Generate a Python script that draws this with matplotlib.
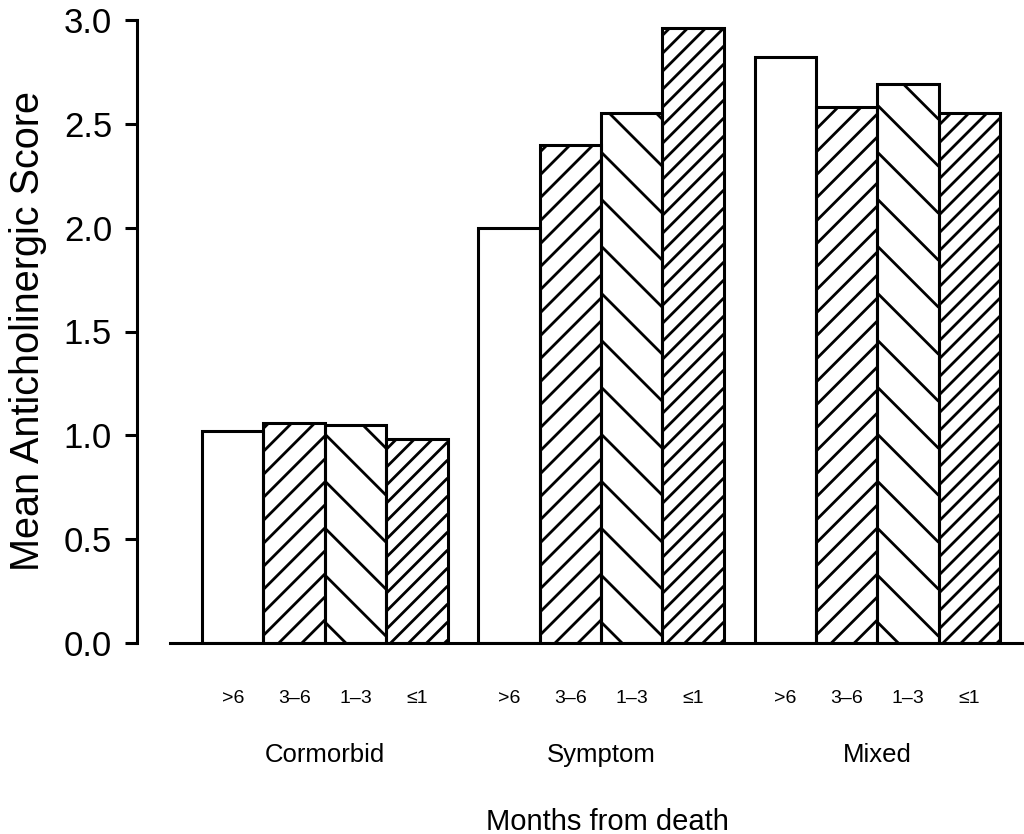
import matplotlib
matplotlib.use("Agg")
import matplotlib.pyplot as plt
import numpy as np

plt.rcParams['font.family'] = ['Liberation Sans', 'DejaVu Sans']

groups = ["Cormorbid", "Symptom", "Mixed"]
periods = [">6", "3–6", "1–3", "≤1"]
scores = {
    "Cormorbid": [1.02, 1.06, 1.05, 0.98],
    "Symptom": [2.0, 2.40, 2.55, 2.96],
    "Mixed": [2.82, 2.58, 2.69, 2.55],
}
yticks = [0.0, 0.5, 1.0, 1.5, 2.0, 2.5, 3.0]

# hatch per period: (direction, spacing px, offset px from bottom corner), None = plain
hatches = [None, ("/", 23, 0), ("\\", 47, 21), ("/", 18, 3)]

group_step = 4.5
offsets = np.array([-1.5, -0.5, 0.5, 1.5])
lw = 2.2

fig = plt.figure(figsize=(10.24, 8.34), dpi=100)
ax = fig.add_axes([137 / 1024, 191 / 834, 887 / 1024, 623 / 834])
ax.set_xlim(-3.06, 11.39)
ax.set_ylim(0, 3.0)
ax.autoscale(False)


def add_hatch(patch, direction, step, off):
    # diagonal lines in pixel space, clipped to the bar
    x0, y0, x1, y1 = patch.get_window_extent().extents
    inv = ax.transData.inverted()
    w = x1 - x0
    n = int((y1 - y0 + 2 * w) / step) + 3
    for k in range(-n, n):
        # y where the line meets the anchor edge (right for "/", left for "\")
        ya = y0 + off + k * step
        if direction == "/":
            pts = np.array([[x0, ya - w], [x1, ya]])
        else:
            pts = np.array([[x0, ya], [x1, ya - w]])
        if max(pts[:, 1]) < y0 or min(pts[:, 1]) > y1:
            continue
        d = inv.transform(pts)
        ln, = ax.plot(d[:, 0], d[:, 1], color="black", lw=2.0,
                      solid_capstyle="butt", zorder=2)
        ln.set_clip_path(patch)


for gi, g in enumerate(groups):
    xs = gi * group_step + offsets
    bars = ax.bar(xs, scores[g], width=1.0, color="white", edgecolor="none", zorder=1)
    for b, h in zip(bars, hatches):
        if h is not None:
            add_hatch(b, *h)
    ax.bar(xs, scores[g], width=1.0, fill=False, edgecolor="black", linewidth=lw, zorder=3)

for s in ["top", "right"]:
    ax.spines[s].set_visible(False)
ax.spines["left"].set_linewidth(lw)
ax.spines["bottom"].set_linewidth(lw)
ax.spines["left"].set_bounds(0, 3.0)
ax.spines["bottom"].set_bounds(-2.52, 11.39)
ax.spines["bottom"].set_zorder(4)

ax.set_yticks(yticks)
ax.set_yticklabels([f"{t:.1f}" for t in yticks])
ax.tick_params(axis="y", direction="out", length=8.6, width=lw, pad=9.4, labelsize=25)
ax.set_xticks([])

trans = matplotlib.transforms.blended_transform_factory(ax.transData, fig.transFigure)
for gi, g in enumerate(groups):
    xs = gi * group_step + offsets
    for x, p in zip(xs, periods):
        ax.text(x, (834 - 703) / 834, p, transform=trans, ha="center", va="baseline",
                fontsize=14, clip_on=False)
    ax.text(gi * group_step, (834 - 762) / 834, g, transform=trans, ha="center",
            va="baseline", fontsize=18.5, clip_on=False)

ax.text(group_step + 0.1, (834 - 830) / 834, "Months from death", transform=trans,
        ha="center", va="baseline", fontsize=21, clip_on=False)
fig.text(28 / 1024, (834 - 331) / 834, "Mean Anticholinergic Score", rotation=90,
         ha="center", va="center", fontsize=28.5)

fig.savefig("out.png", dpi=100)
